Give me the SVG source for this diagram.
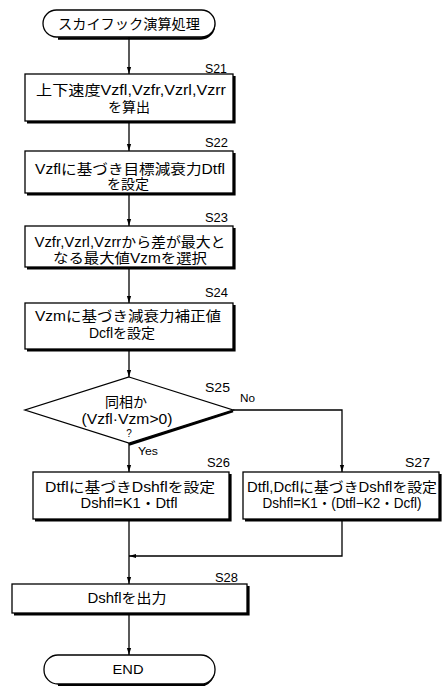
<svg xmlns="http://www.w3.org/2000/svg" width="443" height="686" viewBox="0 0 443 686">
<style>
.b{fill:#fff;stroke:#000;stroke-width:1.3}
.sh{fill:none;stroke:#000;stroke-width:2.6}
.t{font-family:"Liberation Sans","Noto Sans CJK JP",sans-serif;font-size:14px;fill:#000;text-anchor:middle}
.l{font-family:"Liberation Sans",Arial,sans-serif;font-size:12px;fill:#000}
.s{font-family:"Liberation Sans",Arial,sans-serif;font-size:10px;fill:#000}
.c{fill:none;stroke:#000;stroke-width:1.3}
</style>
<defs>
<marker id="ah" markerWidth="7" markerHeight="11" refX="10" refY="3" orient="auto" markerUnits="userSpaceOnUse" viewBox="0 0 10 6">
<path d="M0,0 L10,3 L0,6 Z" fill="#000"/>
</marker>
</defs>
<g id="connectors">
<line class="c" x1="129" y1="37" x2="129" y2="74" marker-end="url(#ah)"/>
<line class="c" x1="129" y1="121" x2="129" y2="151" marker-end="url(#ah)"/>
<line class="c" x1="129" y1="193" x2="129" y2="226" marker-end="url(#ah)"/>
<line class="c" x1="129" y1="267" x2="129" y2="303" marker-end="url(#ah)"/>
<line class="c" x1="129" y1="349" x2="129" y2="377" marker-end="url(#ah)"/>
<line class="c" x1="129" y1="443" x2="129" y2="472" marker-end="url(#ah)"/>
<polyline class="c" points="233,410 342,410 342,472" marker-end="url(#ah)"/>
<line class="c" x1="129" y1="519" x2="129" y2="584" marker-end="url(#ah)"/>
<polyline class="c" points="342,519 342,556 129,556" marker-end="url(#ah)"/>
<line class="c" x1="129" y1="613" x2="129" y2="655" marker-end="url(#ah)"/>
</g>
<g id="start">
<path class="sh" d="M200,11.5 A13.5,13.5 0 0 1 201,38.5 H58"/>
<rect class="b" x="43" y="10" width="172" height="27" rx="13.5"/>
<text class="t" x="129" y="29" textLength="142" lengthAdjust="spacingAndGlyphs">スカイフック演算処理</text>
</g>
<g id="s21">
<path class="sh" d="M234.3,76 V122.3 H27"/>
<rect class="b" x="25" y="74" width="208" height="47"/>
<text class="l" x="205" y="73" textLength="22" lengthAdjust="spacingAndGlyphs">S21</text>
<text class="t" x="131" y="95" textLength="190" lengthAdjust="spacingAndGlyphs">上下速度Vzfl,Vzfr,Vzrl,Vzrr</text>
<text class="t" x="129" y="112">を算出</text>
</g>
<g id="s22">
<path class="sh" d="M234.3,153 V194.3 H27"/>
<rect class="b" x="25" y="151" width="208" height="42"/>
<text class="l" x="205" y="147" textLength="23" lengthAdjust="spacingAndGlyphs">S22</text>
<text class="t" x="130" y="174" textLength="190" lengthAdjust="spacingAndGlyphs">Vzflに基づき目標減衰力Dtfl</text>
<text class="t" x="128" y="189">を設定</text>
</g>
<g id="s23">
<path class="sh" d="M234.3,228 V268.3 H27"/>
<rect class="b" x="25" y="226" width="208" height="41"/>
<text class="l" x="205" y="222" textLength="23" lengthAdjust="spacingAndGlyphs">S23</text>
<text class="t" x="130" y="247" textLength="191" lengthAdjust="spacingAndGlyphs">Vzfr,Vzrl,Vzrrから差が最大と</text>
<text class="t" x="130" y="263" textLength="154" lengthAdjust="spacingAndGlyphs">なる最大値Vzmを選択</text>
</g>
<g id="s24">
<path class="sh" d="M234.3,305 V350.3 H27"/>
<rect class="b" x="25" y="303" width="208" height="46"/>
<text class="l" x="205" y="297" textLength="23" lengthAdjust="spacingAndGlyphs">S24</text>
<text class="t" x="128" y="321" textLength="186" lengthAdjust="spacingAndGlyphs">Vzmに基づき減衰力補正値</text>
<text class="t" x="122" y="338">Dcflを設定</text>
</g>
<g id="s25">
<path class="sh" d="M233,411 L129,444.5"/>
<polygon class="b" points="129,377 233,410 129,443 25,410"/>
<text class="l" x="205" y="392" textLength="25" lengthAdjust="spacingAndGlyphs">S25</text>
<text class="s" x="240" y="402" textLength="15" lengthAdjust="spacingAndGlyphs">No</text>
<text class="t" x="126" y="407">同相か</text>
<text class="t" x="127" y="424" textLength="91" lengthAdjust="spacingAndGlyphs">(Vzfl·Vzm&gt;0)</text>
<text class="s" x="129" y="437" text-anchor="middle">?</text>
<text class="s" x="138" y="455" textLength="20" lengthAdjust="spacingAndGlyphs">Yes</text>
</g>
<g id="s26">
<path class="sh" d="M230.3,474 V520.3 H35"/>
<rect class="b" x="33" y="472" width="196" height="47"/>
<text class="l" x="207" y="467" textLength="23" lengthAdjust="spacingAndGlyphs">S26</text>
<text class="t" x="130" y="492" textLength="170" lengthAdjust="spacingAndGlyphs">Dtflに基づきDshflを設定</text>
<text class="t" x="129" y="508" textLength="97" lengthAdjust="spacingAndGlyphs">Dshfl=K1・Dtfl</text>
</g>
<g id="s27">
<path class="sh" d="M440.3,474 V520.3 H245"/>
<rect class="b" x="243" y="472" width="196" height="47"/>
<text class="l" x="405" y="467" textLength="25" lengthAdjust="spacingAndGlyphs">S27</text>
<text class="t" x="342" y="492" textLength="190" lengthAdjust="spacingAndGlyphs">Dtfl,Dcflに基づきDshflを設定</text>
<text class="t" x="342" y="508" textLength="159" lengthAdjust="spacingAndGlyphs">Dshfl=K1・(Dtfl−K2・Dcfl)</text>
</g>
<g id="s28">
<path class="sh" d="M248.3,586 V614.3 H14"/>
<rect class="b" x="12" y="584" width="235" height="29"/>
<text class="l" x="215" y="582" textLength="23" lengthAdjust="spacingAndGlyphs">S28</text>
<text class="t" x="127" y="603" textLength="79" lengthAdjust="spacingAndGlyphs">Dshflを出力</text>
</g>
<g id="end">
<path class="sh" d="M201,656.5 A13.5,14.5 0 0 1 202,685.3 H58"/>
<rect class="b" x="44" y="655" width="171" height="29" rx="14"/>
<text class="l" x="128" y="674" text-anchor="middle" textLength="31" lengthAdjust="spacingAndGlyphs">END</text>
</g>
</svg>
